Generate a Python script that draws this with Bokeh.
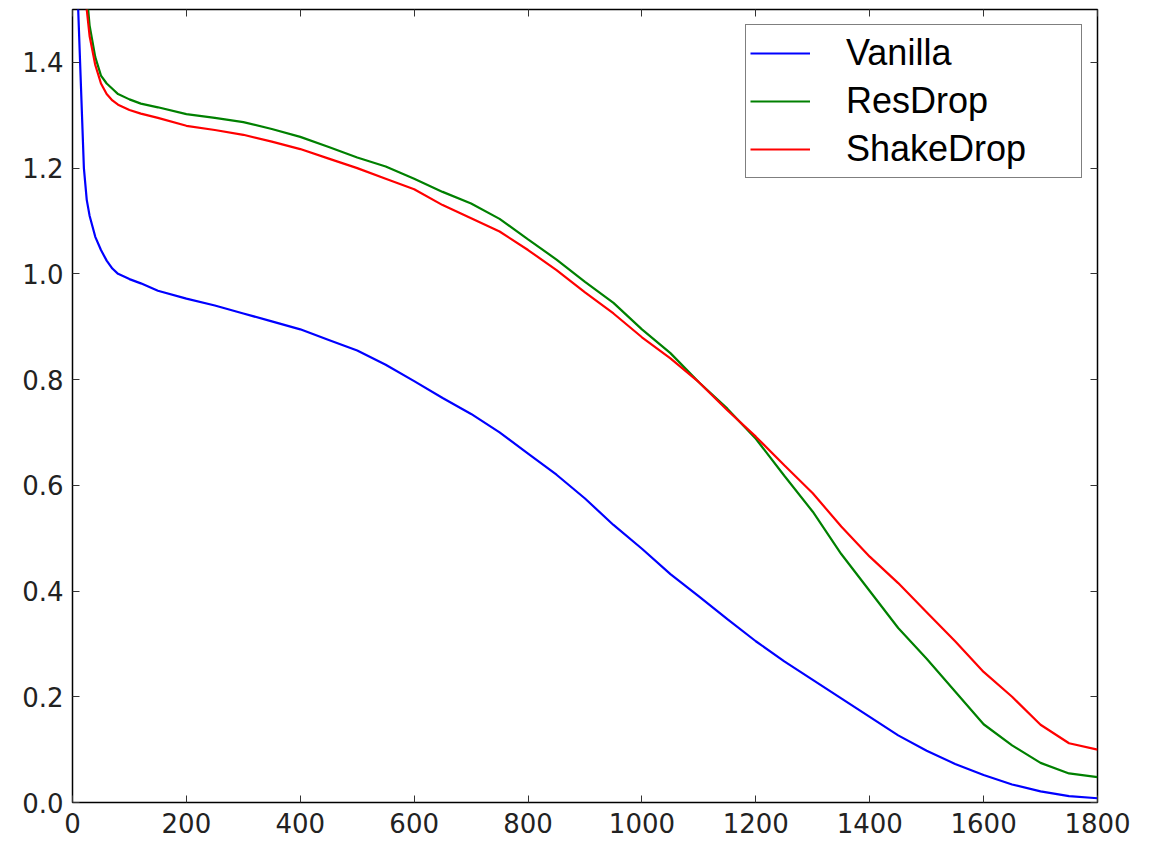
from bokeh.plotting import figure
from bokeh.models import (Range1d, FixedTicker, PrintfTickFormatter, LinearAxis, Legend,
                          LegendItem, CustomJSTickFormatter)
from bokeh.embed import file_html
from bokeh.resources import INLINE

epochs = [0, 5, 10, 15, 20, 25, 30, 40, 50, 60, 70, 80, 100, 120, 150, 200, 250, 300, 350, 400,
          450, 500, 550, 600, 650, 700, 750, 800, 850, 900, 950, 1000, 1050, 1100, 1150, 1200,
          1250, 1300, 1350, 1400, 1450, 1500, 1550, 1600, 1650, 1700, 1750, 1800]

vanilla = [2.3, 1.8, 1.5, 1.35, 1.2, 1.14, 1.11, 1.07, 1.045, 1.025, 1.01, 1.0, 0.99, 0.982,
           0.968, 0.953, 0.94, 0.925, 0.91, 0.895, 0.875, 0.855, 0.828, 0.797, 0.765, 0.735,
           0.70, 0.66, 0.62, 0.575, 0.525, 0.48, 0.432, 0.39, 0.347, 0.305, 0.267, 0.232,
           0.197, 0.162, 0.127, 0.098, 0.073, 0.052, 0.034, 0.021, 0.012, 0.008]

resdrop = [2.4, 2.05, 1.85, 1.7, 1.6, 1.53, 1.47, 1.41, 1.375, 1.36, 1.35, 1.34, 1.33, 1.322,
           1.315, 1.302, 1.295, 1.287, 1.274, 1.259, 1.24, 1.22, 1.203, 1.18, 1.155, 1.133,
           1.104, 1.065, 1.027, 0.985, 0.945, 0.895, 0.85, 0.795, 0.745, 0.688, 0.618, 0.55,
           0.47, 0.40, 0.33, 0.272, 0.21, 0.148, 0.108, 0.075, 0.055, 0.048]

shakedrop = [2.3, 2.0, 1.8, 1.66, 1.58, 1.5, 1.45, 1.395, 1.36, 1.34, 1.328, 1.32, 1.31, 1.303,
             1.295, 1.28, 1.272, 1.263, 1.25, 1.236, 1.218, 1.2, 1.18, 1.16, 1.13, 1.105, 1.08,
             1.045, 1.007, 0.965, 0.925, 0.88, 0.84, 0.795, 0.742, 0.692, 0.638, 0.585, 0.522,
             0.465, 0.415, 0.36, 0.305, 0.247, 0.2, 0.147, 0.112, 0.10]

x_ticks = [0, 200, 400, 600, 800, 1000, 1200, 1400, 1600, 1800]
y_ticks = [0.0, 0.2, 0.4, 0.6, 0.8, 1.0, 1.2, 1.4]

W, H = 1150, 840
p = figure(width=W, height=H, output_backend="svg", toolbar_location=None,
           x_range=Range1d(0, 1800), y_range=Range1d(0, 1.5),
           min_border_left=72, min_border_right=W - 1097, min_border_top=9,
           min_border_bottom=H - 802, x_axis_location=None, y_axis_location=None)
p.xgrid.visible = False
p.ygrid.visible = False
p.background_fill_color = "white"
p.border_fill_color = "white"
p.outline_line_color = "black"
p.outline_line_width = 1.5

def make_axis(ticks, show_labels):
    ax = LinearAxis(ticker=FixedTicker(ticks=ticks))
    ax.axis_line_color = None
    ax.major_tick_in = 7
    ax.major_tick_out = 0
    ax.major_tick_line_color = "#333333"
    ax.major_tick_line_width = 1
    ax.minor_tick_line_color = None
    ax.major_label_text_font = "DejaVu Sans"
    ax.major_label_text_font_size = "26px"
    ax.major_label_text_color = "#222222"
    if not show_labels:
        ax.formatter = CustomJSTickFormatter(code="return ''")
        ax.major_label_standoff = 0
    return ax

bx = make_axis(x_ticks, True)
bx.major_label_standoff = 10
p.add_layout(bx, "below")
ly = make_axis(y_ticks, True)
ly.formatter = PrintfTickFormatter(format="%.1f")
ly.major_label_standoff = 9
p.add_layout(ly, "left")
p.add_layout(make_axis(x_ticks, False), "above")
p.add_layout(make_axis(y_ticks, False), "right")

r1 = p.line(epochs, vanilla, line_color="#0000ff", line_width=2.2)
r2 = p.line(epochs, resdrop, line_color="#008000", line_width=2.2)
r3 = p.line(epochs, shakedrop, line_color="#ff0000", line_width=2.2)

legend = Legend(items=[LegendItem(label="Vanilla", renderers=[r1]),
                       LegendItem(label="ResDrop", renderers=[r2]),
                       LegendItem(label="ShakeDrop", renderers=[r3])],
                location=(673, 624))
legend.label_text_font = "Liberation Sans"
legend.label_text_font_size = "36px"
legend.label_text_color = "black"
legend.padding = 4
legend.spacing = 0
legend.margin = 0
legend.label_height = 48
legend.glyph_height = 48
legend.glyph_width = 60
legend.label_standoff = 36
legend.label_width = 231
legend.border_line_color = "black"
legend.border_line_width = 1.5
legend.background_fill_color = "white"
legend.background_fill_alpha = 1.0
p.add_layout(legend, "center")

open("out.html", "w").write(file_html(p, INLINE))
